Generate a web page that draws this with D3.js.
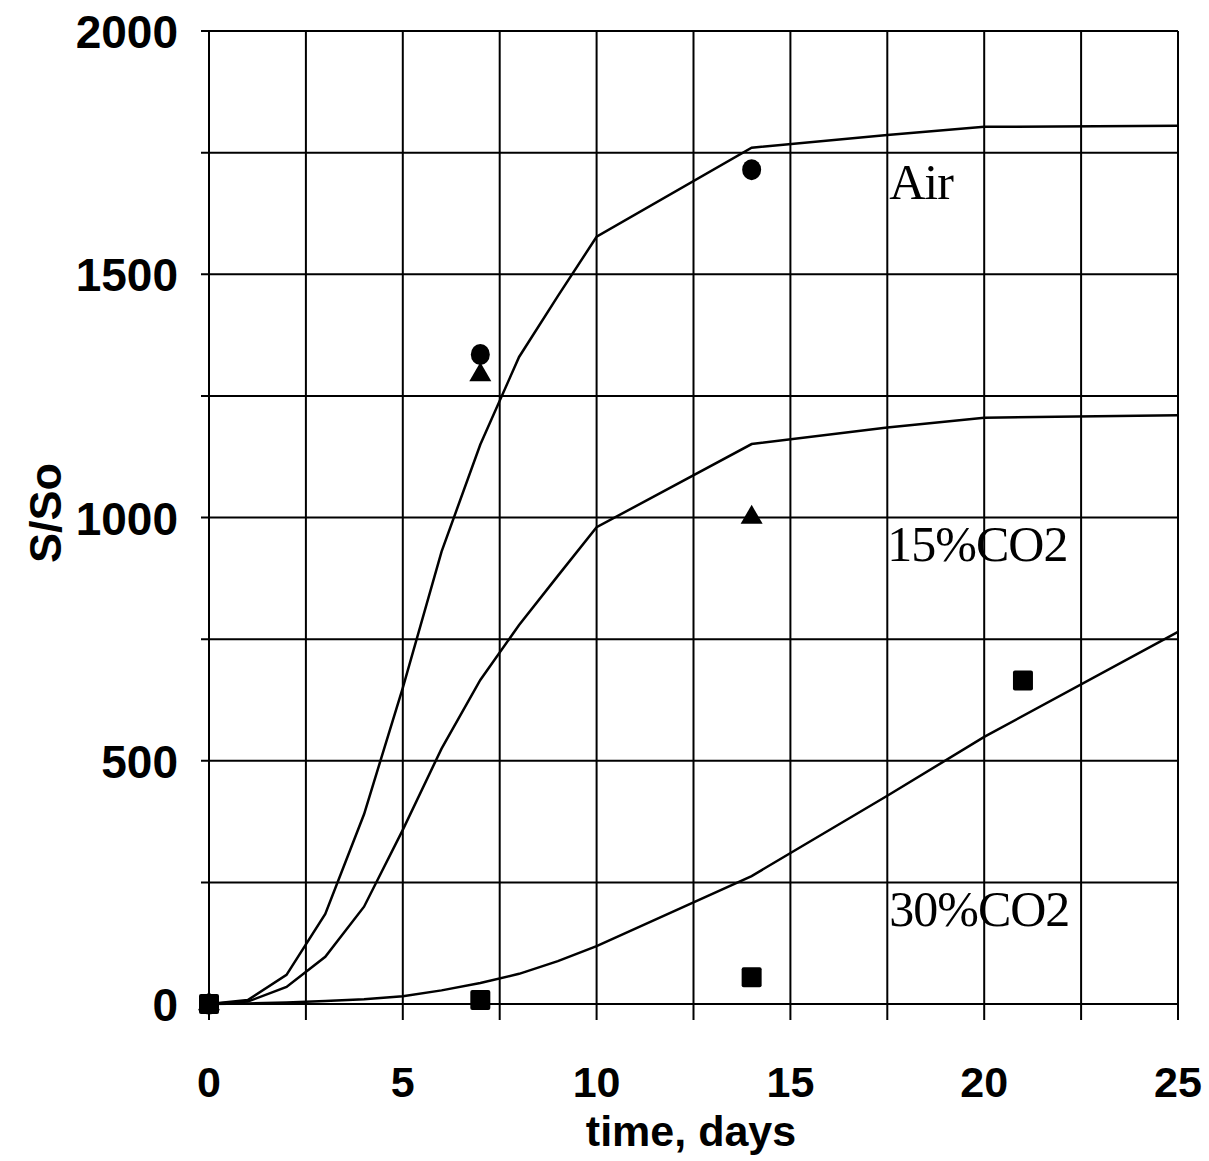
<!DOCTYPE html>
<html><head><meta charset="utf-8">
<script src="https://cdn.jsdelivr.net/npm/d3@7"></script>
<style>body{margin:0;background:#fff}svg{display:block}</style>
</head><body>
<svg id="c" width="1209" height="1161"></svg>
<script>
// Model curves
const modelDays = [0, 1, 2, 3, 4, 5, 6, 7, 8, 9, 10, 14, 17.5, 20, 25];
const airModel   = [0, 8, 60, 185, 390, 650, 930, 1150, 1330, 1455, 1577, 1760, 1786, 1803, 1805];
const co15Model  = [0, 5, 35, 97, 200, 358, 525, 666, 779, 880, 980, 1151, 1185, 1205, 1210];
const co30Model  = [0, 1, 3, 6, 10, 16, 28, 43, 62, 88, 119, 263, 428, 549, 765];
// Observed points
const airDays = [0, 7, 14], airObs = [0, 1335, 1715];
const co15Days = [0, 7, 14], co15Obs = [0, 1293, 1000];
const co30Days = [0, 7, 14, 21], co30Obs = [0, 8, 55, 665];
// Ticks
const xTicks = [0, 5, 10, 15, 20, 25];
const xGrid = [0, 2.5, 5, 7.5, 10, 12.5, 15, 17.5, 20, 22.5, 25];
const yTicks = [0, 500, 1000, 1500, 2000];
const yGrid = [0, 250, 500, 750, 1000, 1250, 1500, 1750, 2000];
const labels = [{t: "Air", x: 17.55, y: 1655}, {t: "15%CO2", x: 17.5, y: 910}, {t: "30%CO2", x: 17.55, y: 160}];

const svg = d3.select("#c");
const L = 209, R = 1178, T = 31, B = 1004;
const x = d3.scaleLinear().domain([0, 25]).range([L, R]);
const y = d3.scaleLinear().domain([0, 2000]).range([B, T]);

const g = svg.append("g");
// grid
g.selectAll(".vg").data(xGrid).join("line")
  .attr("x1", d => x(d)).attr("x2", d => x(d)).attr("y1", T).attr("y2", B + 16)
  .attr("stroke", "#000").attr("stroke-width", 2);
g.selectAll(".hg").data(yGrid).join("line")
  .attr("y1", d => y(d)).attr("y2", d => y(d)).attr("x1", L - 8).attr("x2", R)
  .attr("stroke", "#000").attr("stroke-width", 2);

// axes labels
const sans = "'Liberation Sans', Arial, sans-serif";
g.selectAll(".xt").data(xTicks).join("text")
  .attr("x", d => x(d)).attr("y", 1097).attr("text-anchor", "middle")
  .attr("font-family", sans).attr("font-weight", "bold").attr("font-size", 43)
  .text(d => d);
g.selectAll(".yt").data(yTicks).join("text")
  .attr("x", 178).attr("y", d => y(d) + 17).attr("text-anchor", "end")
  .attr("font-family", sans).attr("font-weight", "bold").attr("font-size", 46)
  .text(d => d);
svg.append("text").attr("transform", "translate(61,513) rotate(-90)")
  .attr("text-anchor", "middle").attr("font-family", sans).attr("font-weight", "bold").attr("font-size", 45)
  .text("S/So");
svg.append("text").attr("x", 691).attr("y", 1146).attr("text-anchor", "middle")
  .attr("font-family", sans).attr("font-weight", "bold").attr("font-size", 43)
  .text("time, days");

// curves
const line = d3.line().x(d => x(d[0])).y(d => y(d[1]));
[airModel, co15Model, co30Model].forEach(s => {
  g.append("path").datum(modelDays.map((d, i) => [d, s[i]]))
    .attr("d", line).attr("fill", "none").attr("stroke", "#000").attr("stroke-width", 2.5);
});

// markers
g.selectAll(".air").data(airDays.map((d, i) => [d, airObs[i]])).join("ellipse")
  .attr("cx", d => x(d[0])).attr("cy", d => y(d[1])).attr("rx", 9.5).attr("ry", 10.5).attr("fill", "#000");
const tri = d3.symbol().type(d3.symbolTriangle).size(210);
g.selectAll(".co15").data(co15Days.map((d, i) => [d, co15Obs[i]])).join("path")
  .attr("d", tri).attr("transform", d => `translate(${x(d[0])},${y(d[1])})`).attr("fill", "#000");
g.selectAll(".co30").data(co30Days.map((d, i) => [d, co30Obs[i]])).join("rect")
  .attr("x", d => x(d[0]) - 10).attr("y", d => y(d[1]) - 10).attr("width", 20).attr("height", 20)
  .attr("rx", 2).attr("fill", "#000");

// series labels
g.selectAll(".lab").data(labels).join("text")
  .attr("x", d => x(d.x)).attr("y", d => y(d.y))
  .attr("font-family", "'Liberation Serif', 'Times New Roman', serif").attr("font-size", 50)
  .attr("letter-spacing", -1)
  .text(d => d.t);
</script>
</body></html>
